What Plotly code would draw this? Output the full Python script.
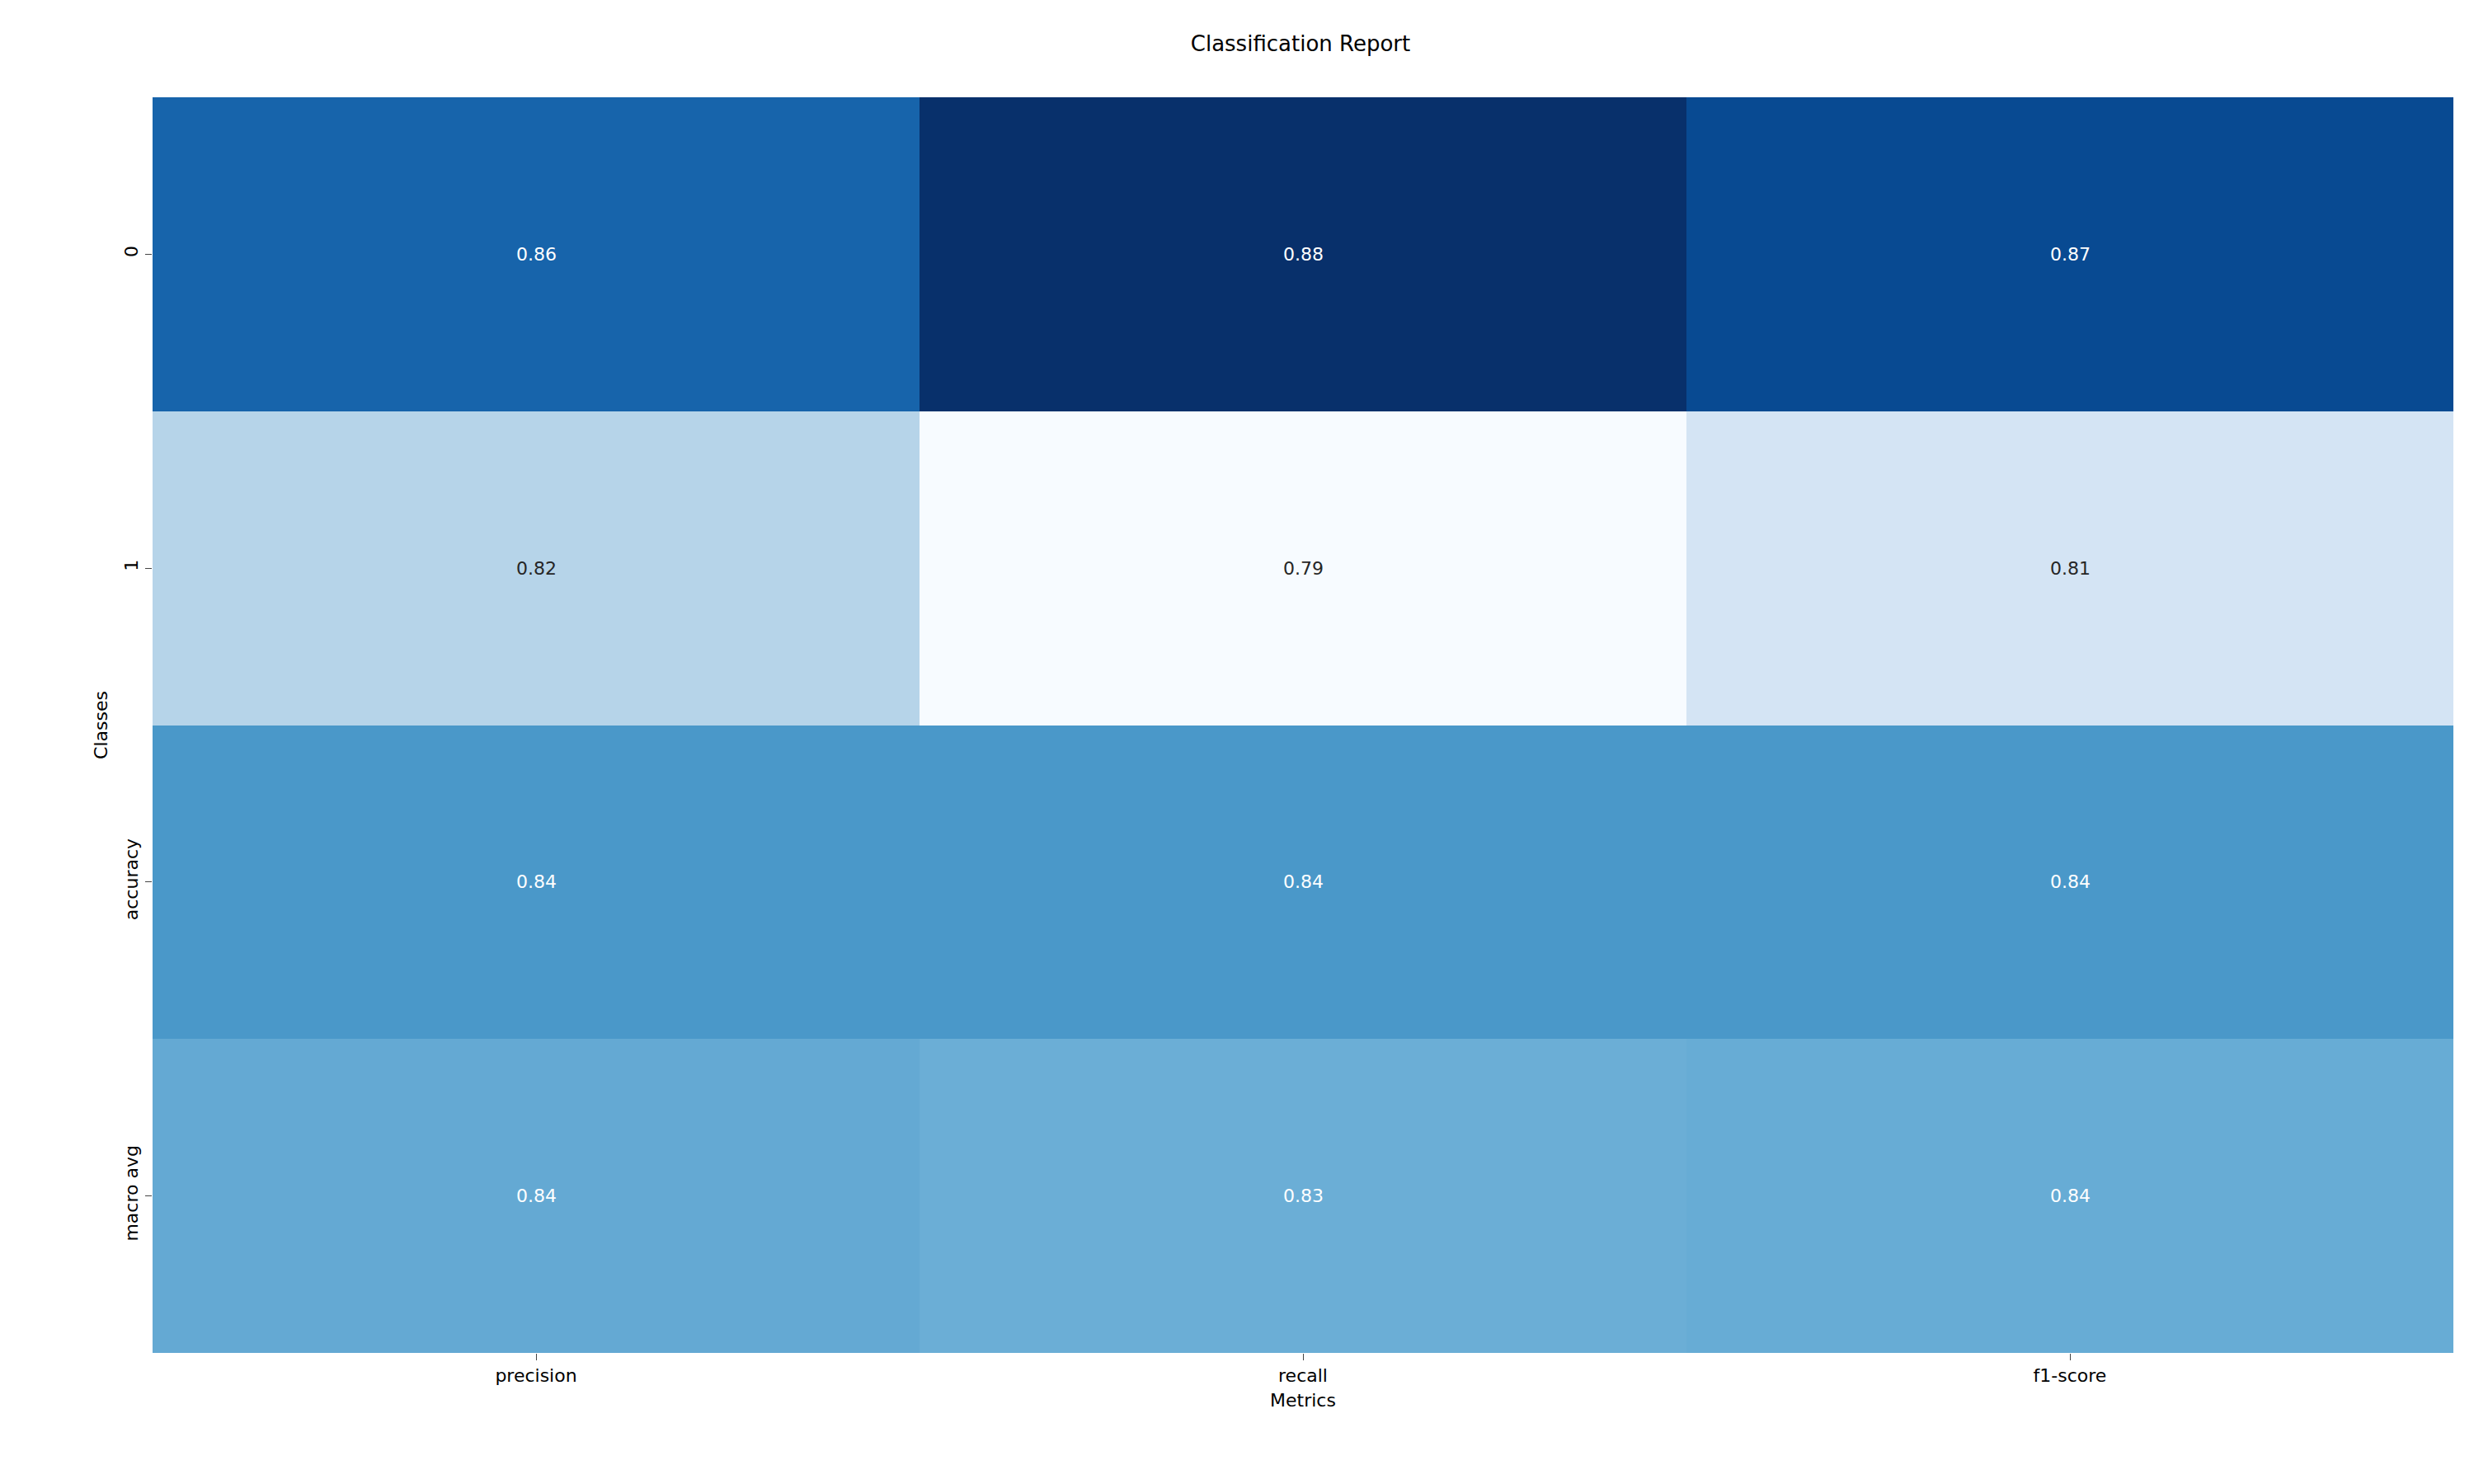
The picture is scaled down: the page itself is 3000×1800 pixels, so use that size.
import plotly.graph_objects as go

metrics = ["precision", "recall", "f1-score"]
classes = ["0", "1", "accuracy", "macro avg"]
scores = [
    [0.862, 0.880, 0.871],
    [0.817, 0.790, 0.806],
    [0.844, 0.844, 0.844],
    [0.837, 0.835, 0.836],
]

blues = ["#f7fbff", "#deebf7", "#c6dbef", "#9ecae1", "#6baed6",
         "#4292c6", "#2171b5", "#08519c", "#08306b"]
cscale = [[i / 8, c] for i, c in enumerate(blues)]

fig = go.Figure(go.Heatmap(
    z=scores, x=metrics, y=classes, colorscale=cscale,
    showscale=False, xgap=0, ygap=0, hoverinfo="skip"))

zmin = min(min(r) for r in scores)
zmax = max(max(r) for r in scores)
for i, row in enumerate(scores):
    for j, v in enumerate(row):
        frac = (v - zmin) / (zmax - zmin)
        fig.add_annotation(x=metrics[j], y=classes[i], text=f"{v:.2f}",
                           showarrow=False,
                           font=dict(size=22, color="white" if frac > 0.4 else "#262626"))

fig.update_layout(
    width=3000, height=1800, plot_bgcolor="white", paper_bgcolor="white",
    margin=dict(l=177, r=33, t=110, b=167),
    font=dict(family="DejaVu Sans", color="black"),
    title=dict(text="Classification Report", x=0.523, xanchor="center",
               y=0.98, yanchor="top", font=dict(size=26)),
    xaxis=dict(title=dict(text="Metrics", font=dict(size=22), standoff=10),
               tickfont=dict(size=22), ticks="outside", ticklen=8,
               showgrid=False, zeroline=False),
    yaxis=dict(title=dict(text="Classes", font=dict(size=22), standoff=10),
               tickfont=dict(size=22), ticks="outside", ticklen=8,
               tickangle=-90, autorange="reversed",
               showgrid=False, zeroline=False),
)

fig.write_html("out.html")
